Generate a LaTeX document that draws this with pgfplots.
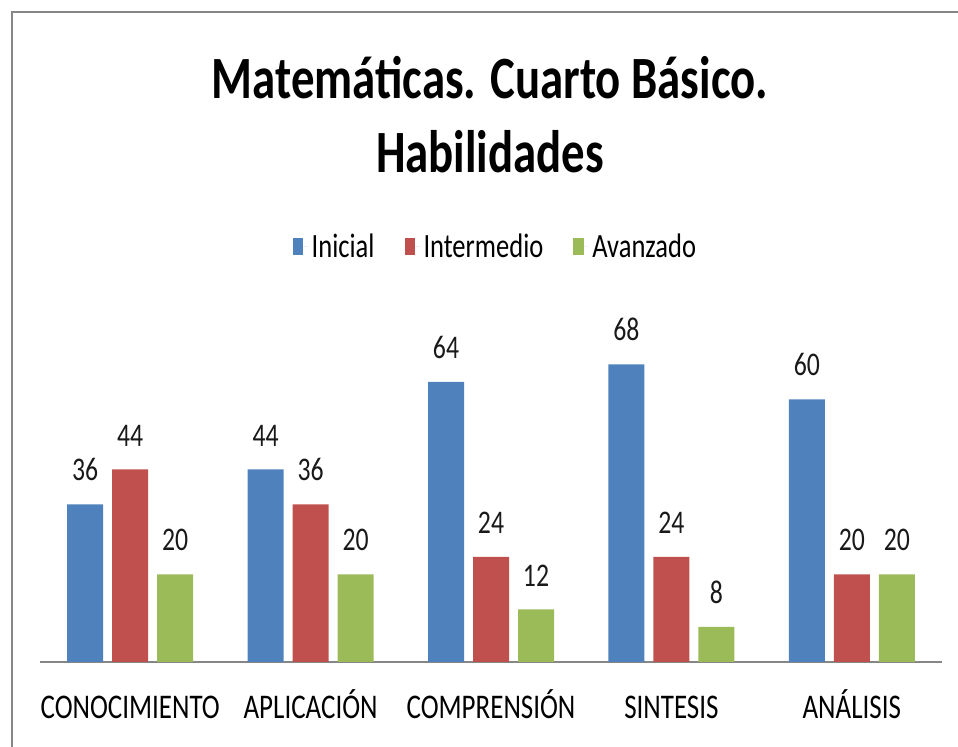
\documentclass[border=0pt]{standalone}
\usepackage{fontspec}
\setmainfont{Carlito}[FakeStretch=0.78]
\usepackage{pgfplots}
\pgfplotsset{compat=1.18}
\definecolor{cblue}{RGB}{79,129,189}
\definecolor{cred}{RGB}{192,80,77}
\definecolor{cgreen}{RGB}{155,187,89}
\definecolor{cgray}{RGB}{134,134,134}
\begin{document}
\begin{tikzpicture}
\begin{axis}[
  at={(20pt,42.5pt)}, anchor=south west,
  scale only axis, width=451pt, height=175pt,
  ymin=0, ymax=80, xmin=-0.5, xmax=4.5,
  /pgf/number format/assume math mode=true,
  axis x line=bottom, axis y line=none,
  x axis line style={-, draw=cgray, line width=0.9pt},
  xtick={0,1,2,3,4},
  xticklabels={CONOCIMIENTO,APLICACIÓN,COMPRENSIÓN,SINTESIS,ANÁLISIS},
  major tick length=0pt,
  xticklabel style={anchor=base, yshift=-28.5pt, font=\fontsize{17.3}{20}\selectfont, text=black},
  ybar=4.5pt, bar width=18pt,
  nodes near coords,
  every node near coord/.append style={anchor=south, inner sep=0pt, yshift=11.5pt, font=\fontsize{16.5}{18}\selectfont, text=black!90},
  legend columns=3,
  legend style={at={(0.506,1.186)}, anchor=center, draw=none, fill=none,
    font=\fontsize{17}{19}\selectfont,
    /tikz/every even column/.append style={column sep=13pt}},
  legend image code/.code={\fill[#1] (0pt,-4.25pt) rectangle (5.25pt,4.25pt); \path (0pt,0pt) -- (7.5pt,0pt);},
]
\addplot[fill=cblue, draw=none] coordinates {(0,36) (1,44) (2,64) (3,68) (4,60)};
\addplot[fill=cred, draw=none] coordinates {(0,44) (1,36) (2,24) (3,24) (4,20)};
\addplot[fill=cgreen, draw=none] coordinates {(0,20) (1,20) (2,12) (3,8) (4,20)};
\legend{Inicial,Intermedio,Avanzado}
\end{axis}
\node[anchor=base, font=\fontsize{30}{36}\selectfont\bfseries] at (245pt,324pt) {Matemáticas. Cuarto Básico.};
\node[anchor=base, font=\fontsize{30}{36}\selectfont\bfseries] at (245pt,287pt) {Habilidades};
\draw[cgray, line width=1.25pt] (6pt,-10pt) -- (6pt,367.5pt) -- (490pt,367.5pt);
\pgfresetboundingbox
\path[use as bounding box] (0,0) rectangle (479pt,373.5pt);
\end{tikzpicture}
\end{document}
